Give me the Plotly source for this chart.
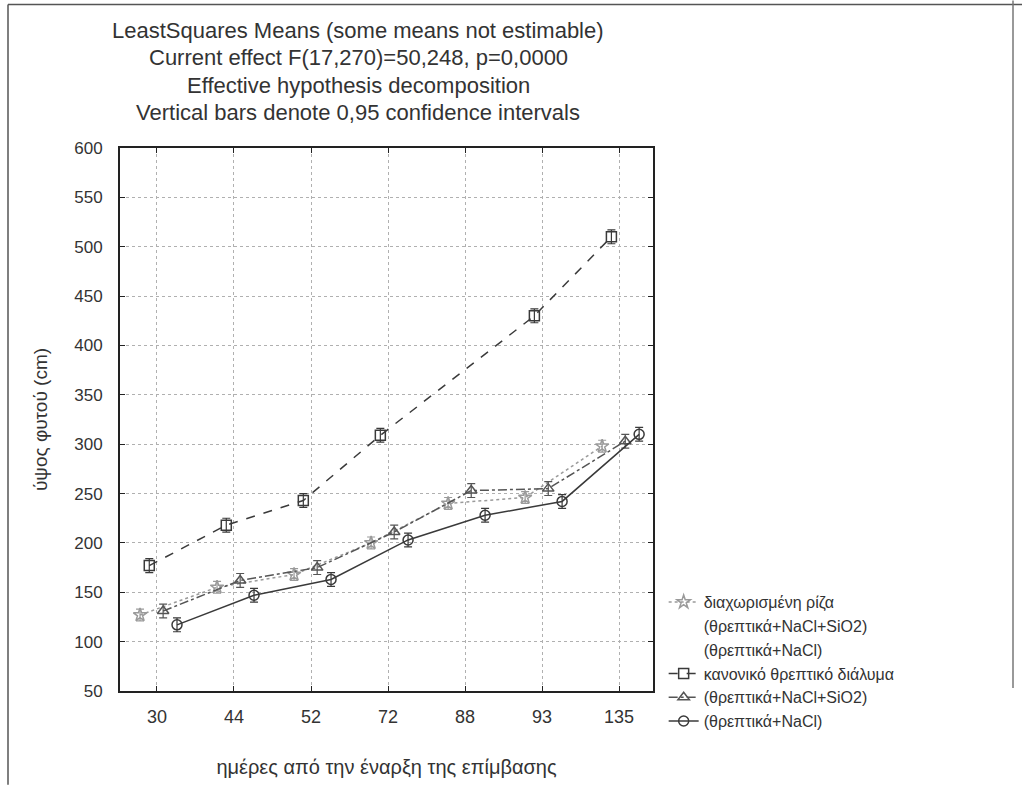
import plotly.graph_objects as go

days = ["30", "44", "52", "72", "88", "93", "135"]

# κανονικό θρεπτικό διάλυμα (squares, dashed)
kanoniko = [177, 218, 243, 309, None, 430, 510]
kanoniko_err = [7, 7, 7, 7, None, 7, 7]
# διαχωρισμένη ρίζα (light stars, dotted)
diax = [127, 155, 168, 200, 240, 246, 298]
diax_err = [6, 6, 6, 6, 6, 6, 6]
# (θρεπτικά+NaCl+SiO2) (triangles)
nacl_sio2 = [131, 162, 175, 211, 253, 255, 303]
nacl_sio2_err = [7, 7, 7, 7, 7, 7, 7]
# (θρεπτικά+NaCl) (circles, solid)
nacl = [117, 147, 163, 203, 228, 242, 310]
nacl_err = [7, 7, 7, 7, 7, 7, 7]

title_lines = [
    "LeastSquares Means (some means not estimable)",
    "Current effect F(17,270)=50,248, p=0,0000",
    "Effective hypothesis decomposition",
    "Vertical bars denote 0,95 confidence intervals",
]

offsets = {"kan": -0.1, "diax": -0.22, "sio2": 0.08, "nacl": 0.26}
idx = list(range(len(days)))

FONT = "Liberation Sans, Arial, sans-serif"
DARK = "#3a3a3a"
LIGHT = "#9a9a9a"
TXT = "#333333"

fig = go.Figure()

def add(name, vals, errs, off, color, dash, symbol):
    fig.add_trace(go.Scatter(
        x=[i + off for i in idx], y=vals, name=name, mode="lines+markers",
        connectgaps=True,
        line=dict(color=color, width=1.5, dash=dash),
        marker=dict(symbol=symbol, size=10, color=color, line=dict(width=1.5, color=color)),
        error_y=dict(type="data", array=errs, color=color, thickness=1.2, width=4),
    ))

add("διαχωρισμένη ρίζα", diax, diax_err, offsets["diax"], LIGHT, "dot", "star-open")
# continuation legend rows (no marks)
fig.add_trace(go.Scatter(x=[None], y=[None], name="(θρεπτικά+NaCl+SiO2)", mode="lines",
                         line=dict(width=0, color="rgba(0,0,0,0)")))
fig.add_trace(go.Scatter(x=[None], y=[None], name="(θρεπτικά+NaCl)", mode="lines",
                         line=dict(width=0, color="rgba(0,0,0,0)")))
add("κανονικό θρεπτικό διάλυμα", kanoniko, kanoniko_err, offsets["kan"], DARK, "dash", "square-open")
add("(θρεπτικά+NaCl+SiO2)", nacl_sio2, nacl_sio2_err, offsets["sio2"], "#555555", "dashdot", "triangle-up-open")
add("(θρεπτικά+NaCl)", nacl, nacl_err, offsets["nacl"], DARK, "solid", "circle-open")

px_to_xp = lambda px: (px - 120) / 533
px_to_yp = lambda py: (693 - py) / 545

annotations = []
for line, py in zip(title_lines, [30, 57, 85, 112]):
    annotations.append(dict(text=line, xref="paper", yref="paper", x=px_to_xp(358),
                            y=px_to_yp(py), xanchor="center", yanchor="middle",
                            showarrow=False, font=dict(size=22, color=TXT, family=FONT)))

fig.update_layout(
    width=1022, height=787,
    margin=dict(l=120, r=369, t=148, b=94),
    paper_bgcolor="white", plot_bgcolor="white",
    font=dict(family=FONT, color=TXT),
    annotations=annotations,
    legend=dict(x=1.02, xanchor="left", y=0.195, yanchor="top",
                font=dict(size=16, color=TXT), bgcolor="rgba(0,0,0,0)",
                tracegroupgap=0, itemwidth=30),
)

fig.update_xaxes(
    range=[-0.48, 6.44], tickvals=idx, ticktext=days,
    showline=True, linecolor="#222222", linewidth=2, mirror="ticks",
    ticks="inside", ticklen=5, tickcolor="#222222",
    showgrid=True, gridcolor="#b0b0b0", griddash="dot", gridwidth=1,
    zeroline=False, tickfont=dict(size=18, color=TXT),
    ticklabelstandoff=8,
    title=dict(text="ημέρες από την έναρξη της επίμβασης", font=dict(size=20, color=TXT),
               standoff=34),
)
fig.update_yaxes(
    range=[50, 600], dtick=50,
    showline=True, linecolor="#222222", linewidth=2, mirror="ticks",
    ticks="inside", ticklen=5, tickcolor="#222222",
    showgrid=True, gridcolor="#b0b0b0", griddash="dot", gridwidth=1,
    zeroline=False, tickfont=dict(size=17, color=TXT),
    ticklabelstandoff=12,
    title=dict(text="ύψος φυτού (cm)", font=dict(size=19, color=TXT), standoff=22),
)

# outer frame lines of the scanned figure
fig.add_shape(type="line", xref="paper", yref="paper", x0=px_to_xp(8), x1=px_to_xp(1022),
              y0=px_to_yp(4), y1=px_to_yp(4), line=dict(color="#555555", width=1.5))
fig.add_shape(type="line", xref="paper", yref="paper", x0=px_to_xp(8), x1=px_to_xp(8),
              y0=px_to_yp(4), y1=px_to_yp(787), line=dict(color="#555555", width=1.5))
fig.add_shape(type="line", xref="paper", yref="paper", x0=px_to_xp(1013), x1=px_to_xp(1013),
              y0=px_to_yp(0), y1=px_to_yp(690), line=dict(color="#777777", width=1.5))

fig.write_html("out.html")
